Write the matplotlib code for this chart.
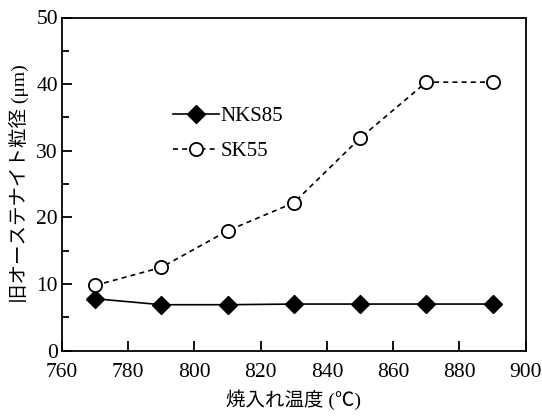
import matplotlib
matplotlib.use("Agg")
import matplotlib.pyplot as plt
from matplotlib.ticker import MultipleLocator

plt.rcParams['font.family'] = ['Liberation Serif', 'Noto Sans CJK JP', 'DejaVu Sans']

temps = [770, 790, 810, 830, 850, 870, 890]
nks85 = [7.8, 6.9, 6.9, 7.0, 7.0, 7.0, 7.0]
sk55 = [9.8, 12.5, 18.0, 22.2, 31.9, 40.3, 40.3]
xlabel = "焼入れ温度 (℃)"
ylabel = "旧オーステナイト粒径 (μm)"

fig = plt.figure(figsize=(5.42, 4.17), dpi=100)
ax = fig.add_axes([62/542, 1-350.7/417, 463.7/542, 333.2/417])

ax.plot(temps, nks85, color='black', lw=1.2, marker='D', markersize=9,
        markerfacecolor='black', label='NKS85')
ax.plot(temps, sk55, color='black', lw=1.2, ls=(0, (3, 2.5)), marker='o', markersize=9.5,
        markerfacecolor='white', markeredgewidth=1.3, label='SK55')

ax.set_xlim(760, 900)
ax.set_ylim(0, 50)
ax.xaxis.set_major_locator(MultipleLocator(20))
ax.yaxis.set_major_locator(MultipleLocator(10))
ax.yaxis.set_minor_locator(MultipleLocator(5))
ax.tick_params(which='both', direction='in', labelsize=15.5, width=1.3, colors='black')
ax.tick_params(which='major', length=7, pad=3)
ax.tick_params(which='minor', length=5)
ax.tick_params(axis='x', pad=9)
for s in ax.spines.values():
    s.set_linewidth(1.3)

ax.set_xlabel(xlabel, fontsize=14, labelpad=5)
ax.set_ylabel(ylabel, fontsize=14, labelpad=5)

ax.legend(loc='upper left', bbox_to_anchor=(0.2, 0.79), frameon=False, fontsize=15,
          handlelength=2.2, handletextpad=0.05, labelspacing=0.75)

fig.savefig("out.png", dpi=100)
